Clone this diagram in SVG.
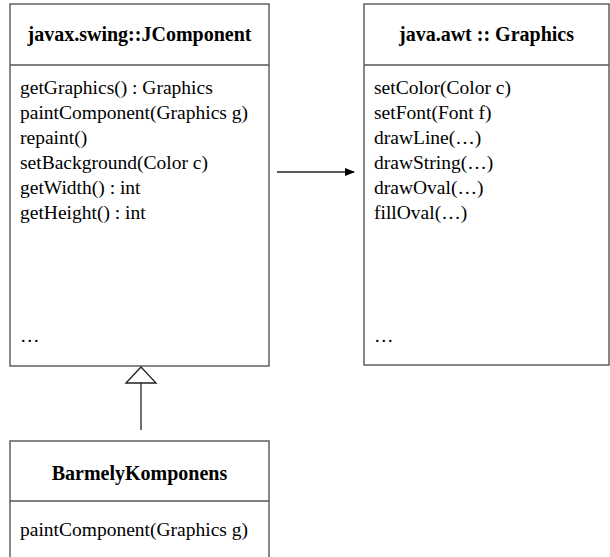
<svg xmlns="http://www.w3.org/2000/svg" width="610" height="557" viewBox="0 0 610 557">
<style>
.box{fill:#fff;stroke:#555;stroke-width:1.4}
.hd{font-family:"Liberation Serif","Times New Roman",serif;font-size:20px;font-weight:bold;text-anchor:middle;fill:#000}
.m{font-family:"Liberation Serif","Times New Roman",serif;font-size:19.5px;fill:#000}
.c{stroke:#222;stroke-width:1.3;fill:none}
</style>
<defs>
<marker id="arr" markerWidth="10" markerHeight="8" refX="9" refY="4" orient="auto" markerUnits="userSpaceOnUse">
<path d="M0,0 L10,4 L0,8 Z" fill="#000"/>
</marker>
</defs>
<rect width="610" height="557" fill="#fff"/>
<g id="jcomponent">
<rect class="box" x="10" y="4" width="259" height="362"/>
<line class="box" x1="10" y1="65" x2="269" y2="65"/>
<text class="hd" x="139.5" y="41">javax.swing::JComponent</text>
<text class="m" x="20" y="94">getGraphics() : Graphics</text>
<text class="m" x="20" y="119">paintComponent(Graphics g)</text>
<text class="m" x="20" y="144">repaint()</text>
<text class="m" x="20" y="169">setBackground(Color c)</text>
<text class="m" x="20" y="194">getWidth() : int</text>
<text class="m" x="20" y="219">getHeight() : int</text>
<text class="m" x="20" y="342">…</text>
</g>
<g id="graphics">
<rect class="box" x="364" y="4" width="245" height="361"/>
<line class="box" x1="364" y1="65" x2="609" y2="65"/>
<text class="hd" x="486.5" y="41">java.awt :: Graphics</text>
<text class="m" x="374" y="94">setColor(Color c)</text>
<text class="m" x="374" y="119">setFont(Font f)</text>
<text class="m" x="374" y="144">drawLine(…)</text>
<text class="m" x="374" y="169">drawString(…)</text>
<text class="m" x="374" y="194">drawOval(…)</text>
<text class="m" x="374" y="219">fillOval(…)</text>
<text class="m" x="374" y="342">…</text>
</g>
<g id="barmely">
<rect class="box" x="10" y="441" width="259" height="130"/>
<line class="box" x1="10" y1="501" x2="269" y2="501"/>
<text class="hd" x="139.5" y="480">BarmelyKomponens</text>
<text class="m" x="20" y="536">paintComponent(Graphics g)</text>
</g>
<g id="connectors">
<line class="c" x1="277" y1="172" x2="354" y2="172" marker-end="url(#arr)"/>
<line class="c" x1="141" y1="430" x2="141" y2="383"/>
<path class="c" d="M126,383 L141,367 L156,383 Z" fill="#fff"/>
</g>
</svg>
